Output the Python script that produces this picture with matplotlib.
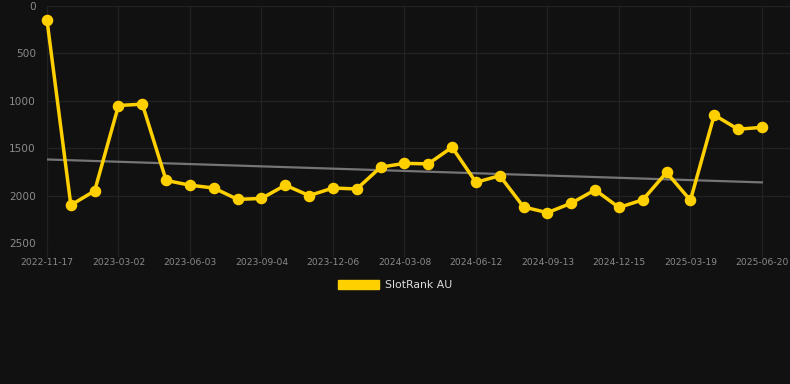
import numpy as np
import matplotlib
matplotlib.use("Agg")
import matplotlib.pyplot as plt
from matplotlib.patches import Patch

# ── Data ──────────────────────────────────────────────────────────────────────

DATES = [
    "2022-11-17", "2022-12-22", "2023-01-26",
    "2023-03-02", "2023-04-02", "2023-05-03",
    "2023-06-03", "2023-07-04", "2023-08-04",
    "2023-09-04", "2023-10-05", "2023-11-05",
    "2023-12-06", "2024-01-06", "2024-02-06",
    "2024-03-08", "2024-04-09", "2024-05-11",
    "2024-06-12", "2024-07-13", "2024-08-13",
    "2024-09-13", "2024-10-14", "2024-11-14",
    "2024-12-15", "2025-01-15", "2025-02-16",
    "2025-03-19", "2025-04-19", "2025-05-20",
    "2025-06-20",
]
RANK = [
    150, 2100, 1950, 1050, 1035, 1840, 1890, 1920, 2040, 2030,
    1890, 2000, 1920, 1930, 1700, 1660, 1665, 1490, 1860, 1790,
    2120, 2180, 2080, 1940, 2125, 2045, 1755, 2050, 1150, 1300,
    1280,
]
Y_TICKS = [0, 500, 1000, 1500, 2000, 2500]
SERIES_NAME = "SlotRank AU"

# ── Style ─────────────────────────────────────────────────────────────────────

BG     = "#111111"
GRID   = "#222222"
TXT    = "#8a8a8a"
YELLOW = "#FFD000"
TREND  = "#757575"

W, H = 790, 384

fig = plt.figure(figsize=(W / 100, H / 100), dpi=100, facecolor=BG)
ax = fig.add_axes([47 / W, 1 - 243 / H, (790 - 47) / W, (243 - 6) / H])
ax.set_facecolor(BG)

x = np.arange(len(RANK))
y = np.array(RANK, dtype=float)

# trend line (least squares)
k, b = np.polyfit(x, y, 1)
ax.plot(x, k * x + b, color=TREND, lw=1.6, zorder=2)

ax.plot(x, y, color=YELLOW, lw=2.5, marker="o", markersize=7.3,
        zorder=3, clip_on=False)

ax.set_ylim(2500, 0)
ax.set_xlim(0, (790 - 47) / 23.83)
ax.set_yticks(Y_TICKS)
ax.set_yticklabels([str(v) for v in Y_TICKS])

tick_idx = x[::3]
ax.set_xticks(tick_idx)
ax.set_xticklabels([DATES[i] for i in tick_idx])

ax.grid(True, color=GRID, lw=0.9)
ax.set_axisbelow(True)
for s in ax.spines.values():
    s.set_visible(False)

ax.tick_params(axis="y", length=0, pad=8, labelsize=7.6, labelcolor=TXT)
ax.tick_params(axis="x", length=10, width=0.9, color=GRID, pad=1,
               labelsize=6.6, labelcolor=TXT)

handle = Patch(facecolor=YELLOW, edgecolor=YELLOW)
fig.legend([handle], [SERIES_NAME], loc="center", bbox_to_anchor=(0.5, 1 - 285 / H),
           frameon=False, fontsize=7.8, labelcolor="#dddddd",
           handlelength=3.8, handleheight=0.95, handletextpad=0.5)

fig.savefig("out.png", dpi=100, facecolor=BG)
